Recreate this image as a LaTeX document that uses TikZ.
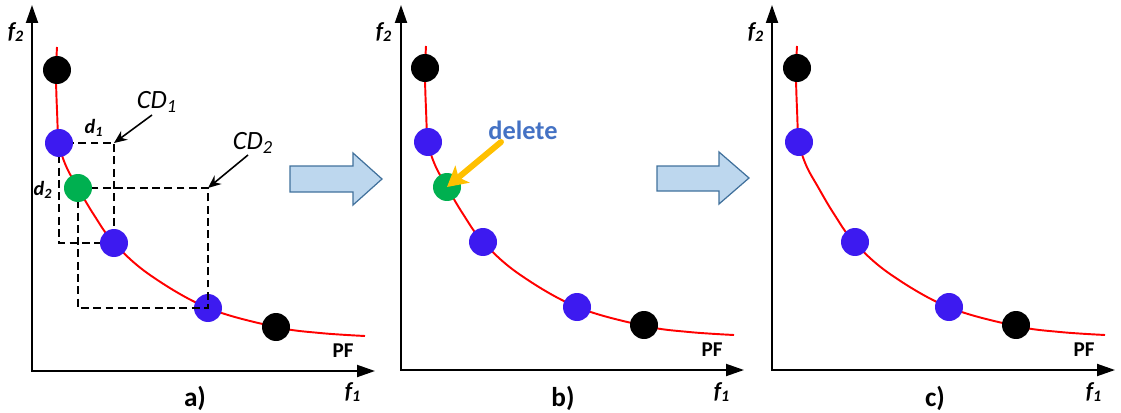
\documentclass[tikz,border=0pt]{standalone}
\usepackage{fontspec}
\setmainfont{Carlito}
\usetikzlibrary{arrows.meta}

\definecolor{ptblue}{HTML}{3D1AF0}
\definecolor{ptgreen}{HTML}{00B050}
\definecolor{delblue}{HTML}{4472C4}
\definecolor{delyellow}{HTML}{FFC000}
\definecolor{boxfill}{HTML}{BDD7EE}
\definecolor{boxline}{HTML}{41719C}

\begin{document}
\begin{tikzpicture}[
    x=0.02cm, y=-0.02cm, % one unit = one pixel of the sketch
    axis/.style={line width=1.1pt, {Triangle[length=3.6mm,width=2.4mm]}-{Triangle[length=3.6mm,width=2.4mm]}},
    pf/.style={red, line width=1.1pt},
    pt/.style={circle, inner sep=0pt, minimum size=5.6mm},
    cdbox/.style={line width=0.75pt, dash pattern=on 4.5pt off 2.5pt},
    cdarrow/.style={line width=0.9pt, -{Stealth[length=2.6mm,width=2.2mm]}},
    delarrow/.style={delyellow, line width=3.4pt, line cap=round, -{Stealth[length=4mm,width=4.4mm,inset=1mm]}},
    bigarrow/.style={draw=boxline, fill=boxfill, line width=0.7pt},
    axlabel/.style={font=\fontsize{13}{15}\selectfont\bfseries\itshape},
    pflabel/.style={font=\fontsize{12}{14}\selectfont\bfseries},
    sublabel/.style={font=\fontsize{15.5}{17}\selectfont\bfseries},
    cdlabel/.style={font=\fontsize{15}{17}\selectfont\itshape},
    dlabel/.style={font=\fontsize{11.5}{13}\selectfont\bfseries\itshape}
]
    \useasboundingbox (0,0) rectangle (1121,412);

    % --- LEFT PANEL (crowding distances) ---
    \begin{scope}
        % Axes
        \coordinate (aO) at (32,371);
        \coordinate (aY) at (32,5);
        \coordinate (aX) at (375,371);
        \draw[axis] (aY) -- (aO) -- (aX);

        % Pareto front
        \draw[pf] plot[smooth, tension=0.6] coordinates {(57,47) (56,75) (57,110) (59,143) (66,166) (78,188) (94,215) (114,243) (150,275) (208,308) (276,327) (320,333) (365,336)};

        % Solutions
        \node[pt, fill=ptblue] (aB3) at (208,308) {};

        % Cuboids
        \draw[cdbox] (59,143) rectangle (114,243);
        \draw[cdbox] (78,188) rectangle (208,308);

        \node[pt, fill=black] (aT) at (57,70) {};
        \node[pt, fill=ptblue] (aB1) at (59,143) {};
        \node[pt, fill=ptgreen] (aG) at (78,188) {};
        \node[pt, fill=ptblue] (aB2) at (114,243) {};
        \node[pt, fill=black] (aE) at (276,327) {};

        % Cuboid labels
        \node[dlabel] (d1) at (94,128) {d\textsubscript{1}};
        \node[dlabel] (d2) at (43,190) {d\textsubscript{2}};
        \node[cdlabel] (cd1) at (157,102) {CD\textsubscript{1}};
        \node[cdlabel] (cd2) at (253,143) {CD\textsubscript{2}};
        \coordinate (cd1tail) at (152,115);
        \coordinate (cd2tail) at (248,155);
        \draw[cdarrow] (cd1tail) -- (aB1.center -| aB2.center);
        \draw[cdarrow] (cd2tail) -- (aG.center -| aB3.center);

        % Axis labels
        \node[axlabel] (af2) at (16,32) {f\textsubscript{2}};
        \node[axlabel] (af1) at (353,392) {f\textsubscript{1}};
        \node[pflabel] (apf) at (343,351) {PF};
        \node[sublabel] (acap) at (195,398) {a)};
    \end{scope}

    % --- ARROW a -> b ---
    \draw[bigarrow] (290,166) -- (353,166) -- (353,153) -- (382,179) -- (353,205) -- (353,192) -- (290,192) -- cycle;

    % --- MIDDLE PANEL (delete) ---
    \begin{scope}[shift={(369,-1)}]
        \coordinate (bO) at (32,371);
        \coordinate (bY) at (32,6);
        \coordinate (bX) at (375,371);
        \draw[axis] (bY) -- (bO) -- (bX);

        \draw[pf] plot[smooth, tension=0.6] coordinates {(57,47) (56,75) (57,110) (59,143) (66,166) (78,188) (94,215) (114,243) (150,275) (208,308) (276,327) (320,333) (365,336)};

        \node[pt, fill=black] (bT) at (56,69) {};
        \node[pt, fill=ptblue] (bB1) at (59,143) {};
        \node[pt, fill=ptgreen] (bG) at (78,188) {};
        \node[pt, fill=ptblue] (bB2) at (114,243) {};
        \node[pt, fill=ptblue] (bB3) at (208,308) {};
        \node[pt, fill=black] (bE) at (275,326) {};

        % Removed solution
        \node[font=\fontsize{15}{17}\selectfont\bfseries, text=delblue] (del) at (154,131) {delete};
        \coordinate (deltail) at (132,143);
        \draw[delarrow] (deltail) -- (bG.center);

        \node[axlabel] (bf2) at (15,33) {f\textsubscript{2}};
        \node[axlabel] (bf1) at (353,393) {f\textsubscript{1}};
        \node[pflabel] (bpf) at (343,351) {PF};
        \node[sublabel] (bcap) at (194,399) {b)};
    \end{scope}

    % --- ARROW b -> c ---
    \draw[bigarrow] (657,166) -- (719,166) -- (719,152) -- (749,178) -- (719,204) -- (719,191) -- (657,191) -- cycle;

    % --- RIGHT PANEL (result) ---
    \begin{scope}[shift={(740,-1)}]
        \coordinate (cO) at (32,371);
        \coordinate (cY) at (32,6);
        \coordinate (cX) at (375,371);
        \draw[axis] (cY) -- (cO) -- (cX);

        \draw[pf] plot[smooth, tension=0.6] coordinates {(57,47) (56,75) (57,110) (59,143) (66,166) (78,188) (94,215) (114,243) (150,275) (208,308) (276,327) (320,333) (365,336)};

        \node[pt, fill=black] (cT) at (57,69) {};
        \node[pt, fill=ptblue] (cB1) at (59,143) {};
        \node[pt, fill=ptblue] (cB2) at (115,243) {};
        \node[pt, fill=ptblue] (cB3) at (209,308) {};
        \node[pt, fill=black] (cE) at (276,326) {};

        \node[axlabel] (cf2) at (16,33) {f\textsubscript{2}};
        \node[axlabel] (cf1) at (354,393) {f\textsubscript{1}};
        \node[pflabel] (cpf) at (344,351) {PF};
        \node[sublabel] (ccap) at (195,399) {c)};
    \end{scope}

\end{tikzpicture}
\end{document}
